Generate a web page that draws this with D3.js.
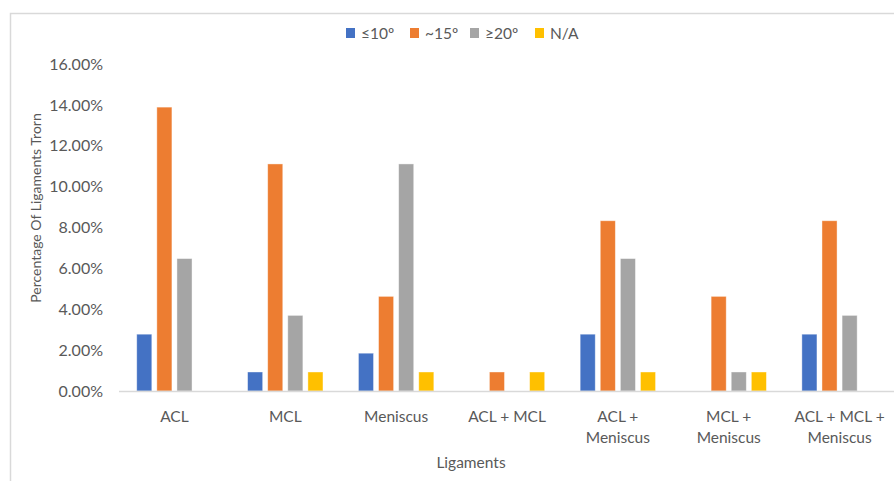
<!DOCTYPE html>
<html><head><meta charset="utf-8">
<script src="https://cdn.jsdelivr.net/npm/d3@7"></script>
<style>
body{margin:0;background:#fff;}
text{font-family:Lato,"Open Sans",sans-serif;fill:#595959;}
</style></head>
<body><svg id="c" width="894" height="481"></svg>
<script>
const categories = ["ACL","MCL","Meniscus","ACL + MCL","ACL + Meniscus","MCL + Meniscus","ACL + MCL + Meniscus"];
const categoryLines = [["ACL"],["MCL"],["Meniscus"],["ACL + MCL"],["ACL +","Meniscus"],["MCL +","Meniscus"],["ACL + MCL +","Meniscus"]];
const seriesNames = ["≤10º","~15º","≥20º","N/A"];
const le10 = [2.78, 0.93, 1.85, 0, 2.78, 0, 2.78];
const p15 = [13.89, 11.11, 4.63, 0.93, 8.33, 4.63, 8.33];
const ge20 = [6.48, 3.70, 11.11, 0, 6.48, 0.93, 3.70];
const na = [0, 0.93, 0.93, 0.93, 0.93, 0.93, 0];
const yTicks = [0,2,4,6,8,10,12,14,16];
const colors = ["#4472C4","#ED7D31","#A5A5A5","#FFC000"];

const seriesVals = [le10,p15,ge20,na];
const svg = d3.select("#c");

// outer border
svg.append("path").attr("d","M10.5,481 V13.5 H894").attr("fill","none").attr("stroke","#d9d9d9").attr("stroke-width",1.5);

const y = d3.scaleLinear().domain([0,16]).range([391,64]);
const x0 = d3.scaleBand().domain(categories).range([119,895]).paddingInner(0.32).paddingOuter(0.16);
const x1 = d3.scaleBand().domain(seriesNames).range([0,x0.bandwidth()]).paddingInner(0.25);

// y axis labels
const yAxis = d3.axisLeft(y).tickValues(yTicks).tickSize(0).tickPadding(0).tickFormat(d=>d.toFixed(2)+"%");
const ga = svg.append("g").attr("transform","translate(103,0)").call(yAxis);
ga.select(".domain").remove();
ga.selectAll("text").style("font-size","16px").style("fill","#595959").style("font-family","Lato,'Open Sans',sans-serif");

// bars
const data = [];
categories.forEach((c,i)=>seriesNames.forEach((s,j)=>data.push({c,s,v:seriesVals[j][i],j})));
svg.append("g").selectAll("rect").data(data.filter(d=>d.v>0)).join("rect")
  .attr("x",d=>x0(d.c)+x1(d.s)).attr("width",x1.bandwidth())
  .attr("y",d=>y(d.v)).attr("height",d=>y(0)-y(d.v))
  .attr("fill",d=>colors[d.j]).attr("stroke","#fff").attr("stroke-opacity",0.5).attr("stroke-width",0.8);

// baseline
svg.append("line").attr("x1",119).attr("x2",895).attr("y1",y(0)+0.5).attr("y2",y(0)+0.5).attr("stroke","#d9d9d9").attr("stroke-width",1.5);

// category labels
const cg = svg.append("g");
categories.forEach((c,i)=>{
  const cx = x0(c)+x0.bandwidth()/2;
  const t = cg.append("text").attr("text-anchor","middle").attr("x",cx).attr("y",422).style("font-size","15.5px");
  categoryLines[i].forEach((l,k)=>t.append("tspan").attr("x",cx).attr("dy",k?21:0).text(l));
});

// axis titles
svg.append("text").attr("x",471).attr("y",468).attr("text-anchor","middle").style("font-size","15.5px").text("Ligaments");
svg.append("text").attr("transform","translate(41,208) rotate(-90)").attr("text-anchor","middle").style("font-size","14px").text("Percentage Of Ligaments Trorn");

// legend
const legX = [346,410,470,535];
const lg = svg.append("g");
seriesNames.forEach((s,j)=>{
  lg.append("rect").attr("x",legX[j]).attr("y",28).attr("width",9).attr("height",10).attr("fill",colors[j]);
  lg.append("text").attr("x",legX[j]+15).attr("y",39).style("font-size","15.5px").text(s);
});
</script></body></html>
